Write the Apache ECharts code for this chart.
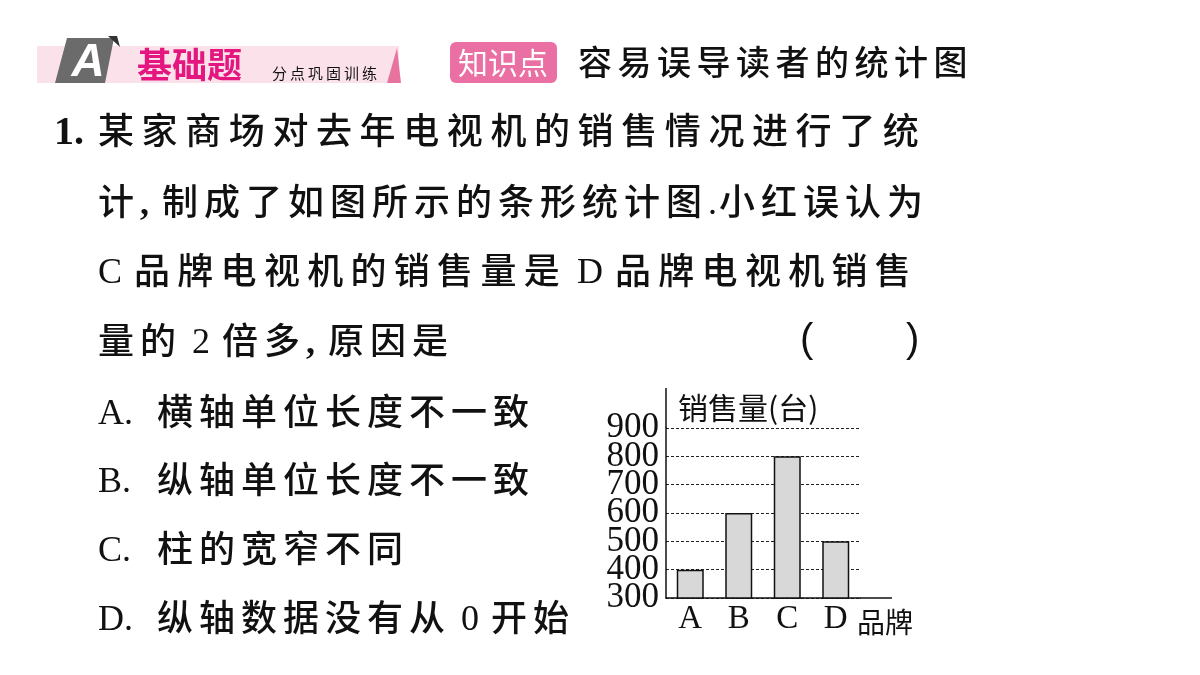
<!DOCTYPE html>
<html>
<head>
<meta charset="utf-8">
<script src="https://cdn.jsdelivr.net/npm/echarts@6/dist/echarts.min.js"></script>
<style>
html, body { margin: 0; padding: 0; background: #fff; }
#main { width: 1200px; height: 675px; }
</style>
</head>
<body>
<div id="main"></div>
<script>
// 图表数据
var brands = ['A', 'B', 'C', 'D'];
var sales = [400, 600, 800, 500];
var yTicks = [300, 400, 500, 600, 700, 800, 900];

// 题目文字
var questionLines = [
    '某家商场对去年电视机的销售情况进行了统',
    '计,制成了如图所示的条形统计图.小红误认为',
    'C 品牌电视机的销售量是 D 品牌电视机销售',
    '量的 2 倍多,原因是'
];
var choiceLabels = ['A.', 'B.', 'C.', 'D.'];
var choiceTexts = ['横轴单位长度不一致', '纵轴单位长度不一致', '柱的宽窄不同', '纵轴数据没有从 0 开始'];

var CJK = '"Noto Sans CJK SC"';
var SERIF = '"Liberation Serif"';
var INK = '#111';
var LATIN_DY = 4; // 西文字母与汉字的垂直对齐补偿

var ctx = document.createElement('canvas').getContext('2d');

function isCJK(ch) {
    return /[\u2e80-\u9fff\uff00-\uffef]/.test(ch);
}

function txt(s, x, y, font, fill, align) {
    return {
        type: 'text',
        style: {
            text: s, x: x, y: y, font: font, fill: fill || INK,
            textAlign: align || 'left', align: align || 'left',
            textVerticalAlign: 'middle', verticalAlign: 'middle'
        }
    };
}

// 逐字排版，模拟书本里的字距
function charRow(str, x, y, size, pitch, weight) {
    var els = [];
    for (var i = 0; i < str.length; i++) {
        var ch = str[i];
        if (isCJK(ch)) {
            els.push(txt(ch, x, y, (weight || 'normal') + ' ' + size + 'px ' + CJK));
            x += pitch;
        } else if (ch === ' ') {
            x += 10;
        } else {
            var f = size + 'px ' + SERIF;
            if (ch === ',') f = 'bold ' + f;
            ctx.font = f;
            var w = ctx.measureText(ch).width;
            els.push(txt(ch, x, y + LATIN_DY, f));
            x += ch === ',' ? 22 : w + 2;
        }
    }
    return els;
}

var elements = [];

// 页眉
elements.push({ type: 'rect', shape: { x: 37, y: 46, width: 362, height: 37 }, style: { fill: '#fbe2ea' } });
elements.push({ type: 'polygon', shape: { points: [[387, 83], [397, 48], [401, 83]] }, style: { fill: '#e8739f' } });
elements.push({ type: 'polygon', shape: { points: [[67, 38], [114, 38], [105, 83], [55, 83]] }, style: { fill: '#6b6b6b' } });
elements.push({ type: 'polygon', shape: { points: [[108, 36], [117, 36], [120, 47]] }, style: { fill: '#333' } });
elements.push(txt('A', 88, 63, 'italic bold 46px "Liberation Sans"', '#fff', 'center'));
elements.push(txt('基础题', 137, 65, 'bold 35px ' + CJK, '#e3177f'));
elements = elements.concat(charRow('分点巩固训练', 272, 73, 15, 18));
elements.push({ type: 'rect', shape: { x: 450, y: 42, width: 107, height: 41, r: 6 }, style: { fill: '#ea6fa3' } });
elements.push(txt('知识点', 503, 63, '30px ' + CJK, '#fff', 'center'));
elements = elements.concat(charRow('容易误导读者的统计图', 578, 62, 34, 39.5, 500));

// 题干
elements.push(txt('1.', 54, 134, 'bold 40px ' + SERIF));
var lineY = [130, 201, 270, 340];
var linePitch = [43.6, 42, 43.3, 42];
questionLines.forEach(function (s, i) {
    elements = elements.concat(charRow(s, 98, lineY[i], 36, linePitch[i], 500));
});
elements.push(txt('(', 800, 341, '40px "Liberation Sans"'));
elements.push(txt(')', 906, 341, '40px "Liberation Sans"'));

// 选项
var choiceY = [411, 479, 548, 617];
choiceLabels.forEach(function (s, i) {
    elements.push(txt(s, 98, choiceY[i] + LATIN_DY, '36px ' + SERIF));
    elements = elements.concat(charRow(choiceTexts[i], 157, choiceY[i], 36, 42, 500));
});

// 坐标轴延长部分
elements.push({ type: 'line', shape: { x1: 666, y1: 388, x2: 666, y2: 428 }, style: { stroke: INK, lineWidth: 1.5 } });
elements.push({ type: 'line', shape: { x1: 860, y1: 598, x2: 892, y2: 598 }, style: { stroke: INK, lineWidth: 1.5 } });

// 刻度标签太密，拆到两根重合的纵轴上，避免被自动隐藏
function yLabelAxis(parity, main) {
    return {
        type: 'value',
        position: 'left',
        min: yTicks[0],
        max: yTicks[yTicks.length - 1],
        interval: yTicks[1] - yTicks[0],
        axisLine: { show: main, lineStyle: { color: INK, width: 1.5 } },
        axisTick: { show: false },
        axisLabel: {
            color: INK, fontFamily: 'Liberation Serif', fontSize: 35, margin: 7,
            showMinLabel: true, showMaxLabel: true,
            formatter: function (v, idx) { return idx % 2 === parity ? String(v) : ''; }
        },
        splitLine: { show: main, lineStyle: { type: [3, 2], color: '#222', width: 1 } }
    };
}
var yMain = yLabelAxis(0, true);
yMain.name = '销售量(台)';
yMain.nameLocation = 'end';
yMain.nameGap = 20;
yMain.nameMoveOverlap = false;
yMain.nameTextStyle = {
    color: INK, fontFamily: 'Noto Sans CJK SC', fontSize: 30,
    align: 'left', verticalAlign: 'middle', padding: [0, 0, 0, 12]
};

var myChart = echarts.init(document.getElementById('main'));
var option = {
    animation: false,
    backgroundColor: '#fff',
    grid: { left: 666, top: 428, width: 194, height: 170 },
    xAxis: {
        type: 'category',
        data: brands,
        axisLine: { lineStyle: { color: INK, width: 1.5 } },
        axisTick: { show: false },
        axisLabel: { color: INK, fontFamily: 'Liberation Serif', fontSize: 33, margin: 5 },
        name: '品牌',
        nameLocation: 'end',
        nameGap: -3,
        nameTextStyle: {
            color: INK, fontFamily: 'Noto Sans CJK SC', fontSize: 28,
            align: 'left', verticalAlign: 'top', padding: [10, 0, 0, 0]
        }
    },
    yAxis: [yMain, yLabelAxis(1, false)],
    series: [{
        type: 'bar',
        data: sales,
        barWidth: 27,
        itemStyle: { color: '#d8d8d8', borderColor: INK, borderWidth: 1.5 }
    }],
    graphic: { elements: elements }
};
myChart.setOption(option);
</script>
</body>
</html>
